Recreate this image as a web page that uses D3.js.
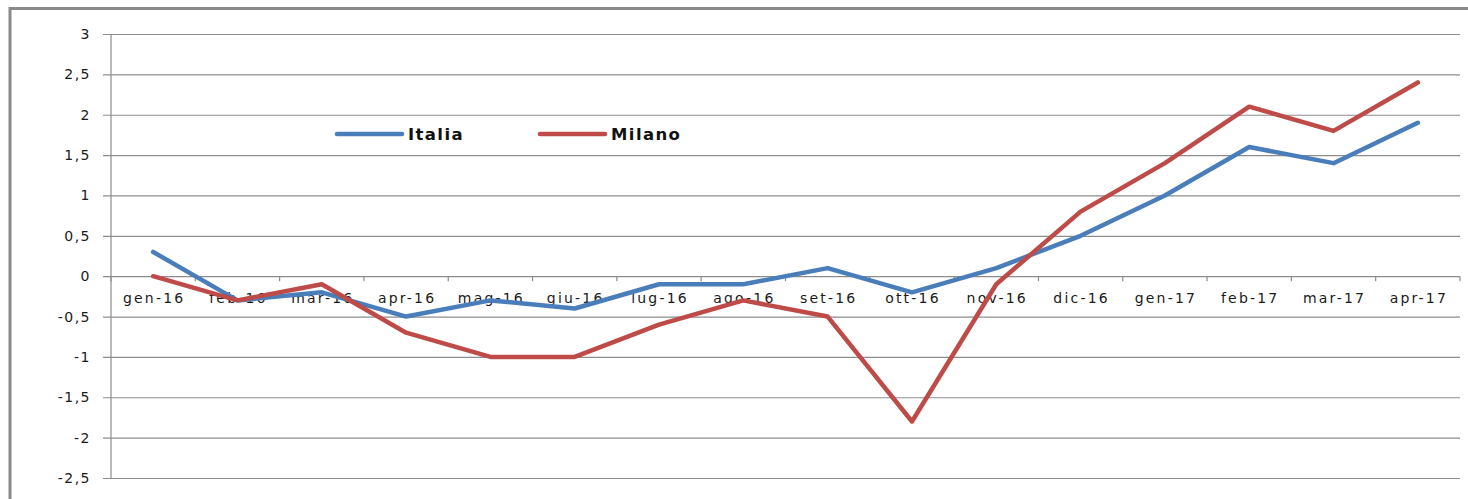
<!DOCTYPE html>
<html>
<head>
<meta charset="utf-8">
<script src="https://cdn.jsdelivr.net/npm/d3@7"></script>
<style>
  html, body { margin: 0; padding: 0; background: #fff; }
  svg { display: block; }
</style>
</head>
<body>
<svg id="chart" width="1468" height="499"></svg>
<script>
// months shown on the category axis
const months = ['gen-16', 'feb-16', 'mar-16', 'apr-16', 'mag-16', 'giu-16', 'lug-16', 'ago-16',
  'set-16', 'ott-16', 'nov-16', 'dic-16', 'gen-17', 'feb-17', 'mar-17', 'apr-17'];
const italia = [0.3, -0.3, -0.2, -0.5, -0.3, -0.4, -0.1, -0.1, 0.1, -0.2, 0.1, 0.5, 1.0, 1.6, 1.4, 1.9];
const milano = [0, -0.3, -0.1, -0.7, -1.0, -1.0, -0.6, -0.3, -0.5, -1.8, -0.1, 0.8, 1.4, 2.1, 1.8, 2.4];
const yTicks = [3, 2.5, 2, 1.5, 1, 0.5, 0, -0.5, -1, -1.5, -2, -2.5];

const series = [
  { name: 'Italia', values: italia, color: '#4a7ebb' },
  { name: 'Milano', values: milano, color: '#be4b48' }
];

const svg = d3.select('#chart');
const plot = { left: 111, right: 1460, top: 34, bottom: 478 };
const font = '"DejaVu Sans", "Open Sans", sans-serif';

// outer frame (cut off at right and bottom like the screenshot)
svg.append('path')
  .attr('d', 'M10,510 L10,8.5 L1480,8.5')
  .attr('fill', 'none')
  .attr('stroke', '#8a8a8a')
  .attr('stroke-width', 3);

const x = d3.scaleBand().domain(months).range([plot.left, plot.right]);
const y = d3.scaleLinear().domain([-2.5, 3]).range([plot.bottom, plot.top]);

// gridlines + y axis ticks
const yAxis = d3.axisLeft(y)
  .tickValues(yTicks)
  .tickSize(plot.right - plot.left + 8)
  .tickPadding(12)
  .tickFormat(d => d3.format('.1~f')(d).replace('.', ',').replace('−', '-'));

const gy = svg.append('g')
  .attr('transform', `translate(${plot.right},0)`)
  .call(yAxis);
gy.select('.domain').remove();
gy.selectAll('.tick line').attr('stroke', '#8c8c8c').attr('stroke-width', 1.2);
gy.selectAll('.tick text')
  .attr('fill', '#1a1a1a')
  .style('font', `14px ${font}`)
  .style('letter-spacing', '1.5px');

// vertical axis line
svg.append('line')
  .attr('x1', plot.left).attr('x2', plot.left)
  .attr('y1', plot.top).attr('y2', plot.bottom)
  .attr('stroke', '#8c8c8c').attr('stroke-width', 1.2);

// category ticks on the zero line
const boundaries = months.map(m => x(m)).concat([plot.right]);
svg.append('g').selectAll('line')
  .data(boundaries)
  .join('line')
  .attr('x1', d => d).attr('x2', d => d)
  .attr('y1', y(0)).attr('y2', y(0) + 5)
  .attr('stroke', '#8c8c8c').attr('stroke-width', 1.2);

// category labels
svg.append('g').selectAll('text')
  .data(months)
  .join('text')
  .attr('x', d => x(d) + x.bandwidth() / 2 + 1)
  .attr('y', y(0) + 27)
  .attr('text-anchor', 'middle')
  .attr('fill', '#1a1a1a')
  .style('font', `14px ${font}`)
  .style('letter-spacing', '2.2px')
  .text(d => d);

// lines
const line = d3.line()
  .x((d, i) => x(months[i]) + x.bandwidth() / 2)
  .y(d => y(d));

svg.append('g').selectAll('path')
  .data(series)
  .join('path')
  .attr('d', d => line(d.values))
  .attr('fill', 'none')
  .attr('stroke', d => d.color)
  .attr('stroke-width', 4.5)
  .attr('stroke-linejoin', 'round')
  .attr('stroke-linecap', 'round');

// legend
const legendX = [337, 540];
const legend = svg.append('g').selectAll('g')
  .data(series)
  .join('g')
  .attr('transform', (d, i) => `translate(${legendX[i]},134)`);
legend.append('line')
  .attr('x1', 0).attr('x2', 65)
  .attr('stroke', d => d.color)
  .attr('stroke-width', 4.5)
  .attr('stroke-linecap', 'round');
legend.append('text')
  .attr('x', 71)
  .attr('y', 6)
  .attr('fill', '#111')
  .style('font', `bold 16.5px ${font}`)
  .style('letter-spacing', '1.4px')
  .text(d => d.name);
</script>
</body>
</html>
